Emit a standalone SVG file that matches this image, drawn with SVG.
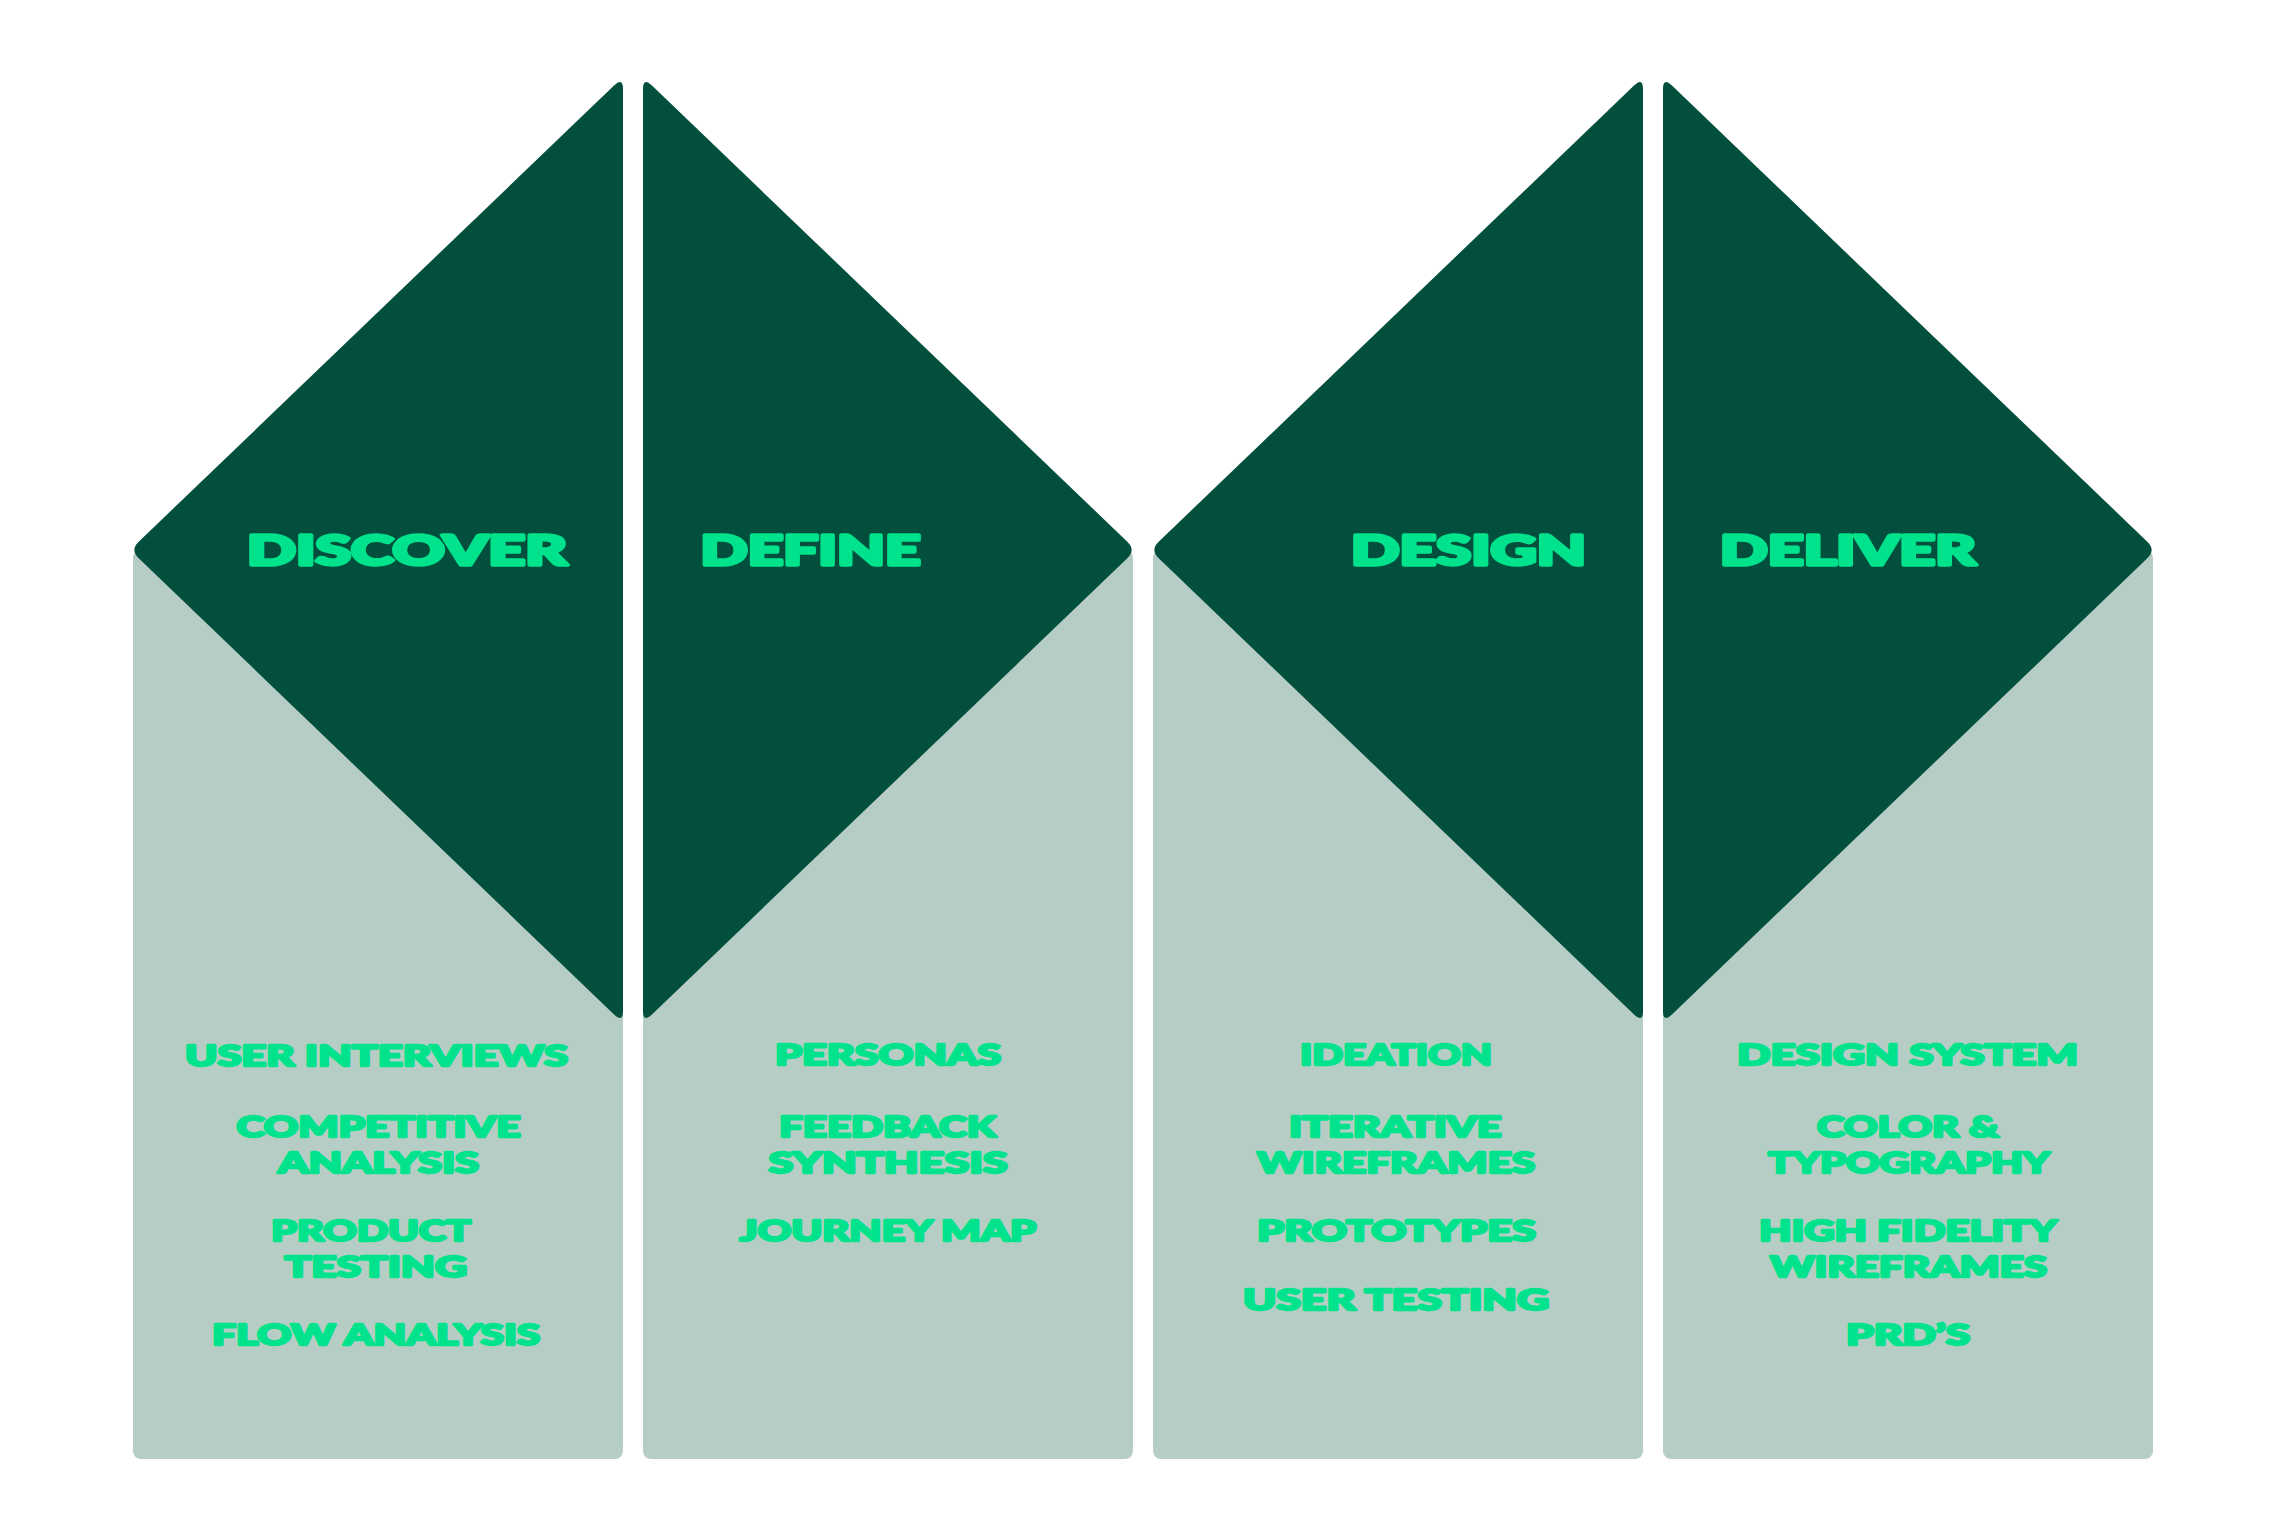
<svg xmlns="http://www.w3.org/2000/svg" width="2286" height="1520" viewBox="0 0 2286 1520">
<style>
.bg{fill:#b6cdc6}
.tri{fill:#024f3d}
.h{font-family:Lato,"Liberation Sans",sans-serif;font-weight:900;font-size:41px;fill:#00e38c;stroke:#00e38c;stroke-width:3.4px;stroke-linejoin:round}
.t{font-family:Lato,"Liberation Sans",sans-serif;font-weight:900;font-size:28.5px;fill:#00e38c;stroke:#00e38c;stroke-width:2.4px;stroke-linejoin:round}
</style>
<rect width="2286" height="1520" fill="#ffffff"/>
<g id="discover">
<rect class="bg" x="133" y="550" width="490" height="909" rx="8"/>
<path class="tri" d="M614.3 85.3 Q623 77 623 89 L623 1011 Q623 1023 614.3 1014.7 L138.7 558.3 Q130 550 138.7 541.7 Z"/>
<text class="h" x="247" y="565" textLength="320" lengthAdjust="spacingAndGlyphs">DISCOVER</text>
<text class="t" x="185" y="1066" textLength="383" lengthAdjust="spacingAndGlyphs">USER INTERVIEWS</text>
<text class="t" x="236.5" y="1137" textLength="284" lengthAdjust="spacingAndGlyphs">COMPETITIVE</text>
<text class="t" x="278" y="1173" textLength="201" lengthAdjust="spacingAndGlyphs">ANALYSIS</text>
<text class="t" x="271" y="1241" textLength="200" lengthAdjust="spacingAndGlyphs">PRODUCT</text>
<text class="t" x="284.5" y="1277" textLength="182.5" lengthAdjust="spacingAndGlyphs">TESTING</text>
<text class="t" x="212" y="1345" textLength="328" lengthAdjust="spacingAndGlyphs">FLOW ANALYSIS</text>
</g>
<g id="define">
<rect class="bg" x="643" y="550" width="490" height="909" rx="8"/>
<path class="tri" d="M651.7 85.3 Q643 77 643 89 L643 1011 Q643 1023 651.7 1014.7 L1127.3 558.3 Q1136 550 1127.3 541.7 Z"/>
<text class="h" x="700.5" y="565" textLength="220" lengthAdjust="spacingAndGlyphs">DEFINE</text>
<text class="t" x="775" y="1065" textLength="226" lengthAdjust="spacingAndGlyphs">PERSONAS</text>
<text class="t" x="779" y="1137" textLength="217" lengthAdjust="spacingAndGlyphs">FEEDBACK</text>
<text class="t" x="768.5" y="1173" textLength="239" lengthAdjust="spacingAndGlyphs">SYNTHESIS</text>
<text class="t" x="739.5" y="1241" textLength="296.5" lengthAdjust="spacingAndGlyphs">JOURNEY MAP</text>
</g>
<g id="design">
<rect class="bg" x="1153" y="550" width="490" height="909" rx="8"/>
<path class="tri" d="M1634.3 85.3 Q1643 77 1643 89 L1643 1011 Q1643 1023 1634.3 1014.7 L1158.7 558.3 Q1150 550 1158.7 541.7 Z"/>
<text class="h" x="1351" y="565" textLength="235" lengthAdjust="spacingAndGlyphs">DESIGN</text>
<text class="t" x="1300" y="1065" textLength="192" lengthAdjust="spacingAndGlyphs">IDEATION</text>
<text class="t" x="1289" y="1137" textLength="212.5" lengthAdjust="spacingAndGlyphs">ITERATIVE</text>
<text class="t" x="1257" y="1173" textLength="278" lengthAdjust="spacingAndGlyphs">WIREFRAMES</text>
<text class="t" x="1257" y="1241" textLength="279" lengthAdjust="spacingAndGlyphs">PROTOTYPES</text>
<text class="t" x="1243" y="1310" textLength="306" lengthAdjust="spacingAndGlyphs">USER TESTING</text>
</g>
<g id="deliver">
<rect class="bg" x="1663" y="550" width="490" height="909" rx="8"/>
<path class="tri" d="M1671.7 85.3 Q1663 77 1663 89 L1663 1011 Q1663 1023 1671.7 1014.7 L2147.3 558.3 Q2156 550 2147.3 541.7 Z"/>
<text class="h" x="1720" y="565" textLength="256" lengthAdjust="spacingAndGlyphs">DELIVER</text>
<text class="t" x="1737" y="1065" textLength="341" lengthAdjust="spacingAndGlyphs">DESIGN SYSTEM</text>
<text class="t" x="1817" y="1137" textLength="182" lengthAdjust="spacingAndGlyphs">COLOR &amp;</text>
<text class="t" x="1768" y="1173" textLength="282" lengthAdjust="spacingAndGlyphs">TYPOGRAPHY</text>
<text class="t" x="1759" y="1241" textLength="298" lengthAdjust="spacingAndGlyphs">HIGH FIDELITY</text>
<text class="t" x="1770" y="1277" textLength="277" lengthAdjust="spacingAndGlyphs">WIREFRAMES</text>
<text class="t" x="1846" y="1345" textLength="124" lengthAdjust="spacingAndGlyphs">PRD’S</text>
</g>
<g id="connectors"/>
</svg>
